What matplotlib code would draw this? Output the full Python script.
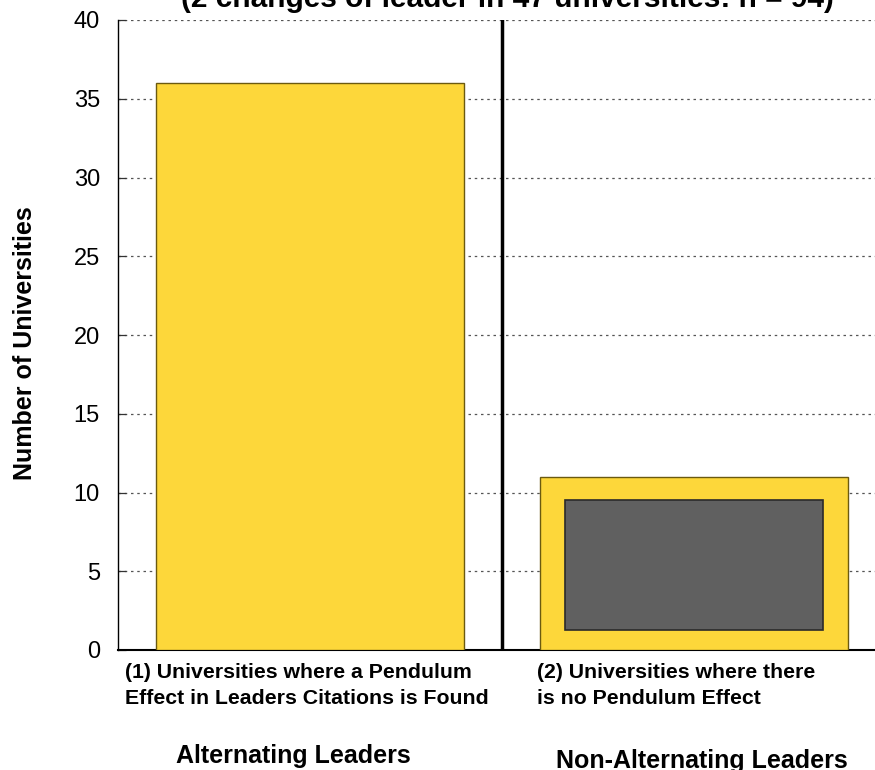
import matplotlib
matplotlib.use("Agg")
import matplotlib.pyplot as plt
from matplotlib.patches import Rectangle

plt.rcParams['font.family'] = ['Liberation Sans', 'DejaVu Sans']

categories = ["Alternating Leaders", "Non-Alternating Leaders"]
sublabels = ["(1) Universities where a Pendulum\nEffect in Leaders Citations is Found",
             "(2) Universities where there\nis no Pendulum Effect"]
values = [36, 11]
inner_box = (1.27, 9.5)   # gray inset in bar 2 (bottom, top)
yticks = [0, 5, 10, 15, 20, 25, 30, 35, 40]
title = "(2 changes of leader in 47 universities: n = 94)"

W, H = 875, 770
fig = plt.figure(figsize=(W/100, H/100), dpi=100)
ax = fig.add_axes([118/W, 120/H, 768/W, 630/H])

x = [0, 1]
ax.bar(x, values, width=0.8, color='#FDD73A', edgecolor='#6b5a10', linewidth=1.0, zorder=3)
ax.add_patch(Rectangle((1 - 0.335, inner_box[0]), 0.67, inner_box[1] - inner_box[0],
                       facecolor='#606060', edgecolor='#2a2a2a', linewidth=1.2, zorder=4))
ax.axvline(0.5, color='black', linewidth=2.5, zorder=5)

ax.set_xlim(-0.5, 1.5)
ax.set_ylim(0, 40)
ax.set_yticks(yticks)
ax.set_yticklabels([str(t) for t in yticks], fontsize=17)
ax.set_xticks([])
ax.yaxis.grid(True, linestyle=(0, (2, 3)), color='#555555', linewidth=0.9, zorder=0)
ax.tick_params(axis='y', direction='in', length=6, width=0.9, pad=13, color='#333333')
ax.spines['top'].set_visible(False)
ax.spines['right'].set_visible(False)
ax.spines['left'].set_linewidth(1.0)
ax.spines['bottom'].set_linewidth(1.5)

ax.set_ylabel("Number of Universities", fontsize=18, fontweight='bold')
ax.yaxis.set_label_coords(-0.106, 0.487)

fig.text(125/W, 1 - 663/H, sublabels[0], ha='left', va='top', fontsize=15.3,
         fontweight='bold', linespacing=1.45)
fig.text(537/W, 1 - 663/H, sublabels[1], ha='left', va='top', fontsize=15.3,
         fontweight='bold', linespacing=1.45)
fig.text(293/W, 1 - 756/H, categories[0], ha='center', va='center', fontsize=18,
         fontweight='bold')
fig.text(702/W, 1 - 761/H, categories[1], ha='center', va='center', fontsize=18,
         fontweight='bold')

fig.text(507/W, 1 - 7/H, title, ha='center', va='baseline', fontsize=21.5, fontweight='bold')

fig.savefig("out.png", dpi=100)
